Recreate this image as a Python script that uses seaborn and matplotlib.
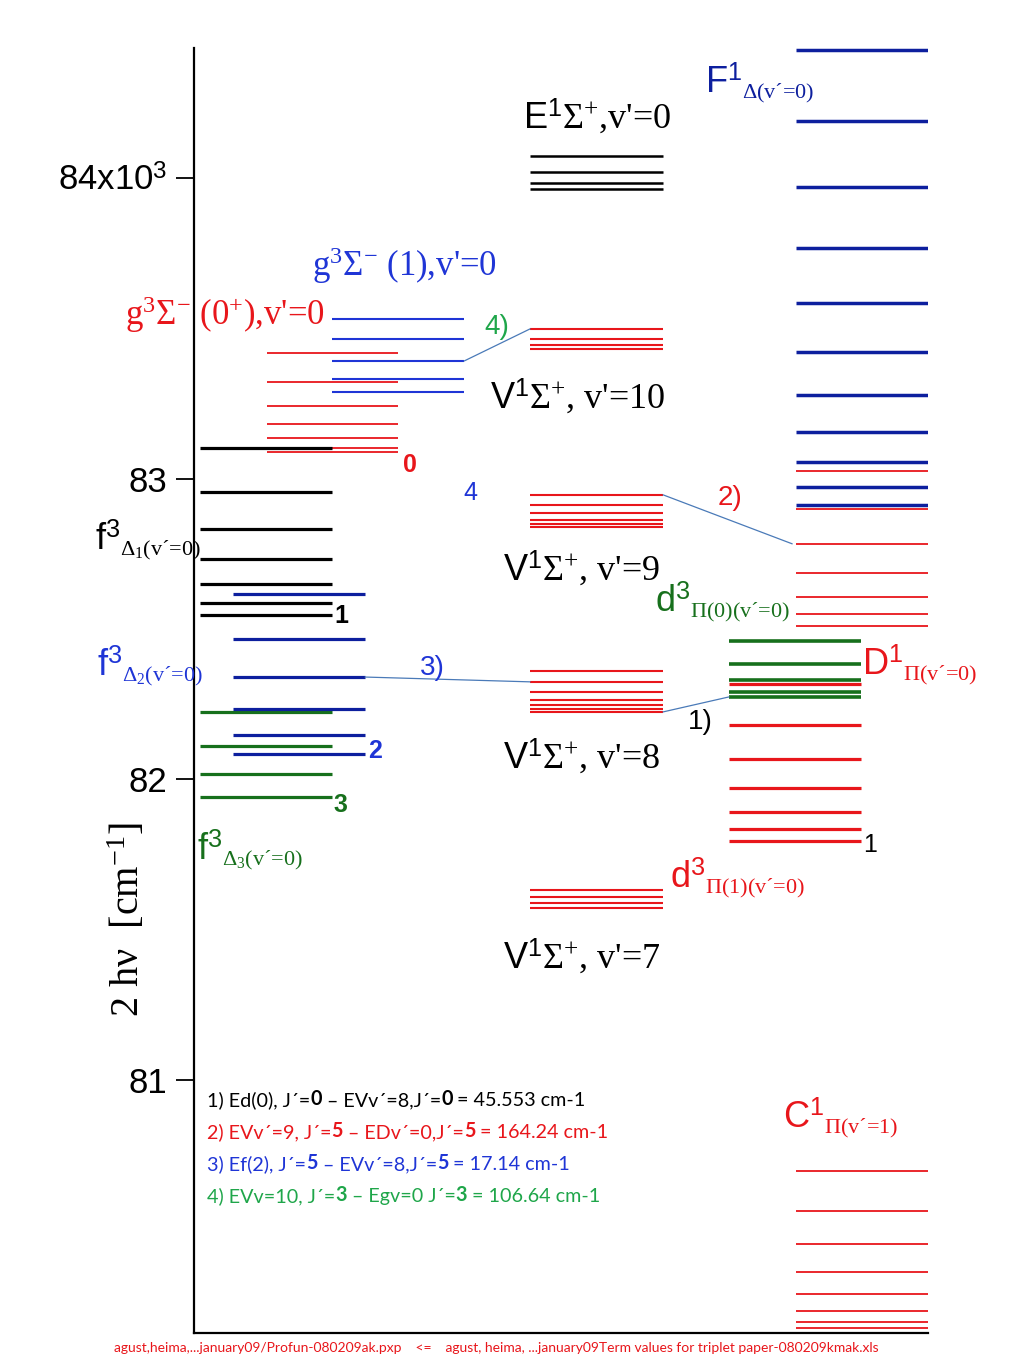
import matplotlib
matplotlib.use("Agg")
import matplotlib.pyplot as plt
import seaborn as sns
import pandas as pd

# term values in cm-1
f1_levels = [83102, 82956, 82833, 82733, 82650, 82586, 82547]
g0_levels = [83418, 83321, 83242, 83182, 83135, 83102, 83089]
g1_levels = [83531, 83464, 83391, 83331, 83288]
f2_levels = [82616, 82467, 82340, 82234, 82147, 82084]
f3_levels = [82224, 82111, 82018, 81941]
E_levels = [84073, 84020, 83983, 83963]
V10_levels = [83498, 83465, 83445, 83431]
V9_levels = [82946, 82912, 82886, 82863, 82849, 82839]
V8_levels = [82360, 82324, 82290, 82264, 82247, 82234, 82224]
V7_levels = [81632, 81609, 81589, 81572]
F_levels = [84425, 84190, 83970, 83767, 83584, 83421, 83278, 83155, 83055, 82972, 82912]
D_levels = [83025, 82899, 82783, 82686, 82606, 82550, 82510]
d0_levels = [82460, 82384, 82330, 82290, 82274]
d1_levels = [82317, 82181, 82068, 81971, 81891, 81835, 81795]
C_levels = [80697, 80564, 80455, 80361, 80288, 80232, 80195, 80175]

yticks = [81000, 82000, 83000, 84000]
ytick_labels = ["81", "82", "83", r"84x10$^{\mathsf{3}}$"]

legend_lines = [
    ["1) Ed(0), J´=", "*0", " – EVv´=8,J´=", "*0", " = 45.553 cm-1"],
    ["2) EVv´=9, J´=", "*5", " – EDv´=0,J´=", "*5", " = 164.24 cm-1"],
    ["3) Ef(2), J´=", "*5", " – EVv´=8,J´=", "*5", " = 17.14 cm-1"],
    ["4) EVv=10, J´=", "*3", " – Egv=0 J´=", "*3", " = 106.64 cm-1"],
]
footer = ("agust,heima,...january09/Profun-080209ak.pxp    <=    "
          "agust, heima, ...january09Term values for triplet paper-080209kmak.xls")

RED = "#e8161b"
NAVY = "#0d1f9e"
BLUE = "#1f35d6"
DKGREEN = "#17701c"
LTGREEN = "#1fa64a"
LINK = "#4a7ab8"

sns.set_theme(style="ticks")
plt.rcParams["font.family"] = ["Liberation Sans", "DejaVu Sans"]
plt.rcParams["mathtext.fontset"] = "custom"
plt.rcParams["mathtext.rm"] = "Liberation Serif"
plt.rcParams["mathtext.sf"] = "Liberation Sans"
plt.rcParams["mathtext.it"] = "Liberation Serif:italic"
plt.rcParams["mathtext.bf"] = "Liberation Serif:bold"

fig = plt.figure(figsize=(10.24, 13.65), dpi=100)
ax = fig.add_axes([194 / 1024, 32 / 1365, 734 / 1024, 1285 / 1365])


def px_x(px):
    return (px - 194) / 734 * 100


def px_y(py):
    return 81000 + (1080 - py) * 1000 / 300.67


# column extents (x in 0..100)
col_f = (0.8, 18.8)
col_g0 = (9.9, 27.8)
col_g1 = (18.8, 36.8)
col_f2 = (5.3, 23.3)
col_V = (45.8, 63.9)
col_F = (82.0, 100.0)
col_d = (72.9, 90.9)


def draw_levels(levels, col, color, lw):
    rows = []
    for i, e in enumerate(levels):
        rows.append({"x": col[0], "E": e, "lvl": i})
        rows.append({"x": col[1], "E": e, "lvl": i})
    df = pd.DataFrame(rows)
    sns.lineplot(data=df, x="x", y="E", units="lvl", estimator=None, sort=False,
                 color=color, lw=lw, ax=ax, solid_capstyle="butt")


draw_levels(g0_levels, col_g0, RED, 1.3)
draw_levels(f1_levels, col_f, "black", 2.3)
draw_levels(g1_levels, col_g1, BLUE, 1.5)
draw_levels(f3_levels, col_f, DKGREEN, 2.3)
draw_levels(f2_levels, col_f2, NAVY, 2.3)
draw_levels(E_levels, col_V, "black", 1.8)
for lv in (V10_levels, V9_levels, V8_levels, V7_levels):
    draw_levels(lv, col_V, RED, 1.5)
draw_levels(F_levels, col_F, NAVY, 2.5)
draw_levels(D_levels, col_F, RED, 1.3)
draw_levels(C_levels, col_F, RED, 1.3)
draw_levels(d1_levels, col_d, RED, 2.3)
draw_levels(d0_levels, col_d, DKGREEN, 2.6)

# connectors between near-degenerate levels
links = [
    ((col_g1[1], g1_levels[2]), (col_V[0], V10_levels[0])),
    ((col_V[1], V9_levels[0]), (col_F[0] - 0.5, D_levels[2])),
    ((col_f2[1], f2_levels[2]), (col_V[0], V8_levels[1])),
    ((col_V[1], V8_levels[-1]), (col_d[0], d0_levels[-1])),
]
for (xa, ya), (xb, yb) in links:
    ax.plot([xa, xb], [ya, yb], color=LINK, lw=0.9)

# state labels
serif = "Liberation Serif"
big = 26


def state(px, py, main, sup, sub, color):
    head = ax.text(px_x(px), px_y(py), r"%s$^{\mathsf{%s}}$" % (main, sup),
                   color=color, fontsize=big, ha="left", va="baseline")
    ax.annotate(sub, xy=(1, 0), xycoords=head, xytext=(0, 2),
                textcoords="offset points", color=color, fontsize=16,
                family=serif, ha="left", va="baseline")


ax.text(px_x(523), px_y(128), r"$\mathsf{E}^{\mathsf{1}}\Sigma^{+}$,v'=0",
        fontsize=big, family=serif, color="black", va="baseline")
state(705, 93, "F", "1", r"$\Delta$(v´=0)", NAVY)
ax.text(px_x(312), px_y(276), r"g$^{3}\Sigma^{-}$ (1),v'=0",
        fontsize=25, family=serif, color=BLUE, va="baseline")
ax.text(px_x(125), px_y(325), r"g$^{3}\Sigma^{-}$ (0$^{+}$),v'=0",
        fontsize=25, family=serif, color=RED, va="baseline")
for py, px, v in [(408, 490, "10"), (580, 503, "9"), (768, 503, "8"), (968, 503, "7")]:
    ax.text(px_x(px), px_y(py), r"$\mathsf{V}^{\mathsf{1}}\Sigma^{+}$, v'=" + v,
            fontsize=big, family=serif, color="black", va="baseline")
state(95, 550, "f", "3", r"$\Delta_1$(v´=0)", "black")
state(97, 676, "f", "3", r"$\Delta_2$(v´=0)", BLUE)
state(197, 860, "f", "3", r"$\Delta_3$(v´=0)", DKGREEN)
state(655, 612, "d", "3", r"$\Pi$(0)(v´=0)", DKGREEN)
state(862, 675, "D", "1", r"$\Pi$(v´=0)", RED)
state(670, 888, "d", "3", r"$\Pi$(1)(v´=0)", RED)
state(783, 1128, "C", "1", r"$\Pi$(v´=1)", RED)

# J markers
marks = [(410, 465, "0", RED, "bold"), (470, 493, "4", BLUE, "normal"),
         (341, 616, "1", "black", "bold"), (375, 751, "2", BLUE, "bold"),
         (340, 805, "3", DKGREEN, "bold"), (870, 845, "1", "black", "normal")]
for px, py, t, c, w in marks:
    ax.text(px_x(px), px_y(py), t, color=c, fontsize=18, fontweight=w,
            ha="center", va="center")

for px, py, t, c in [(497, 327, "4)", LTGREEN), (730, 498, "2)", RED),
                     (432, 668, "3)", BLUE), (700, 722, "1)", "black")]:
    ax.text(px_x(px), px_y(py), t, color=c, fontsize=20, ha="center", va="center")

# legend block with bold J values
leg_colors = ["black", RED, BLUE, LTGREEN]
for k, (parts, c) in enumerate(zip(legend_lines, leg_colors)):
    prev = None
    for p in parts:
        bold = p.startswith("*")
        txt = p[1:] if bold else p
        kw = dict(color=c, fontsize=14.2, family="Lato",
                  fontweight="bold" if bold else "normal", va="bottom", ha="left")
        if prev is None:
            prev = ax.text(px_x(207), px_y(1109 + 32 * k), txt, **kw)
        else:
            prev = ax.annotate(txt, xy=(1, 0), xycoords=prev, **kw)

fig.text(0.485, 1 - 1348 / 1365, footer, color=RED, fontsize=10, family="Lato",
         ha="center", va="center")

ax.set_xlim(0, 100)
ax.set_ylim(80158.5, 84432)
ax.set_yticks(yticks)
ax.set_yticklabels(ytick_labels)
ax.set_xticks([])
ax.set_xlabel("")
ax.set_ylabel("")
ax.tick_params(axis="y", direction="out", length=13, width=1.3, pad=6,
               labelsize=25, colors="black")
for lab in ax.get_yticklabels():
    lab.set_family("Liberation Sans")
sns.despine(ax=ax)
ax.spines["left"].set_linewidth(1.6)
ax.spines["bottom"].set_linewidth(1.6)
ax.spines["left"].set_color("black")
ax.spines["bottom"].set_color("black")

ax.text(px_x(128), px_y(920), "2 hν  [cm$^{-1}$]", rotation=90, fontsize=29,
        family=serif, ha="center", va="center", color="black")

fig.savefig("out.png", dpi=100)
